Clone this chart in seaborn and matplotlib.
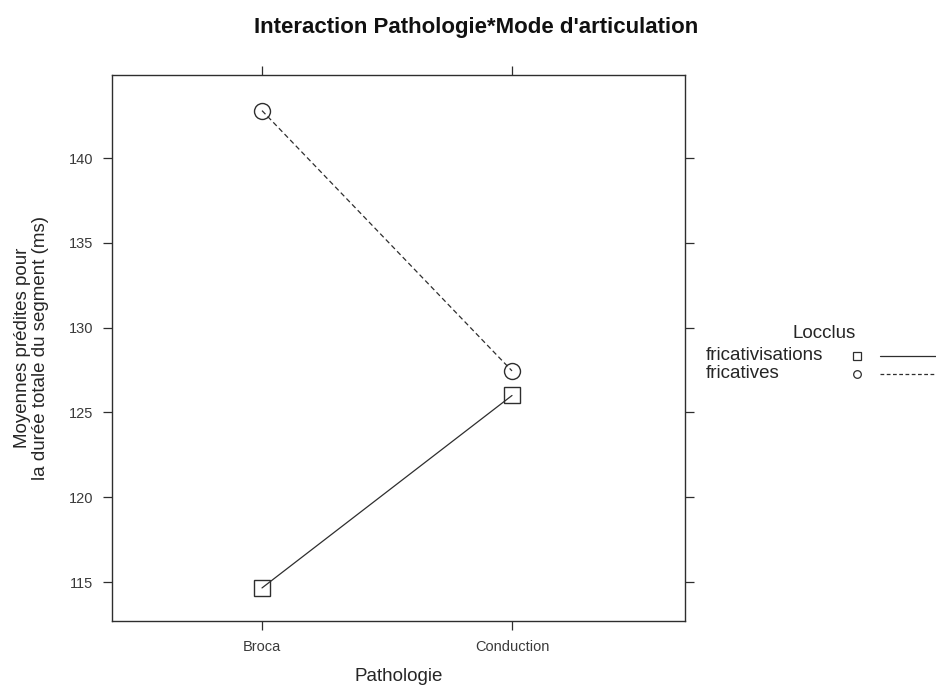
import matplotlib
matplotlib.use("Agg")
import matplotlib.pyplot as plt
import seaborn as sns
import pandas as pd
from matplotlib.lines import Line2D

# Predicted means (ms) by pathology and articulation mode
pathologies = ["Broca", "Conduction"]
modes = ["fricativisations", "fricatives"]
fricativisations_means = [114.65, 126.0]
fricatives_means = [142.8, 127.45]
y_ticks = [115, 120, 125, 130, 135, 140]

rows = []
for i, p in enumerate(pathologies):
    rows.append({"Pathologie": i, "Mode": modes[0], "value": fricativisations_means[i]})
    rows.append({"Pathologie": i, "Mode": modes[1], "value": fricatives_means[i]})
df = pd.DataFrame(rows)

sns.set_theme(style="white")
plt.rcParams["font.family"] = ["Liberation Sans", "DejaVu Sans"]

ink = "#2e2e2e"
txt = "#262626"
fig = plt.figure(figsize=(9.36, 6.93), dpi=100)
ax = fig.add_axes([112 / 936, 1 - 621 / 693, (685 - 112) / 936, (621 - 75) / 693])

sns.lineplot(
    data=df, x="Pathologie", y="value", hue="Mode", style="Mode",
    palette={modes[0]: ink, modes[1]: ink},
    markers={modes[0]: "s", modes[1]: "o"},
    dashes={modes[0]: "", modes[1]: (4, 2.5)},
    markersize=11.5, markerfacecolor="none", markeredgecolor=ink,
    markeredgewidth=1.0, linewidth=0.9, legend=False, ax=ax,
)

ax.set_xlim(-0.6, 1.692)
ax.set_ylim(112.7, 144.9)
ax.set_xticks(range(len(pathologies)))
ax.set_xticklabels(pathologies)
ax.set_yticks(y_ticks)
ax.set_yticklabels([str(t) for t in y_ticks])

for s in ax.spines.values():
    s.set_color(ink)
    s.set_linewidth(1.0)
    s.set_visible(True)

ax.tick_params(axis="both", which="both", direction="out", length=6.5, width=0.9,
               color=ink, labelsize=10.5, labelcolor="#3a3a3a",
               top=True, right=True, bottom=True, left=True,
               labeltop=False, labelright=False)
ax.tick_params(axis="y", pad=7)
ax.tick_params(axis="x", pad=7)

ax.set_xlabel("Pathologie", fontsize=13.5, color=txt)
ax.xaxis.set_label_coords(0.5, -0.086)
ax.set_ylabel("Moyennes prédites pour\nla durée totale du segment (ms)",
              fontsize=13.5, color=txt, linespacing=1.05)
ax.yaxis.set_label_coords(-0.11, 0.5)

fig.text(476 / 936, 1 - 28 / 693, "Interaction Pathologie*Mode d'articulation",
         ha="center", va="center", fontsize=16, fontweight="bold", color="#111111")

# Key: title, labels, point symbols and line samples
def fx(px):
    return px / 936

def fy(py):
    return 1 - py / 693

fig.text(fx(824), fy(333), "Locclus", ha="center", va="center", fontsize=13.5, color=txt)
key_rows = [(356, "s", "-"), (374, "o", (0, (3, 2)))]
for (py, mk, ls), label in zip(key_rows, modes):
    fig.text(fx(706), fy(py), label, ha="left", va="center", fontsize=13.5, color=txt)
    fig.add_artist(Line2D([fx(857)], [fy(py)], marker=mk, markersize=5.5,
                          markerfacecolor="none", markeredgecolor=ink,
                          markeredgewidth=0.9, linestyle="none",
                          transform=fig.transFigure))
    fig.add_artist(Line2D([fx(880), fx(940)], [fy(py), fy(py)], color=ink,
                          linewidth=0.9, linestyle=ls, transform=fig.transFigure))

fig.savefig("out.png", dpi=100)
